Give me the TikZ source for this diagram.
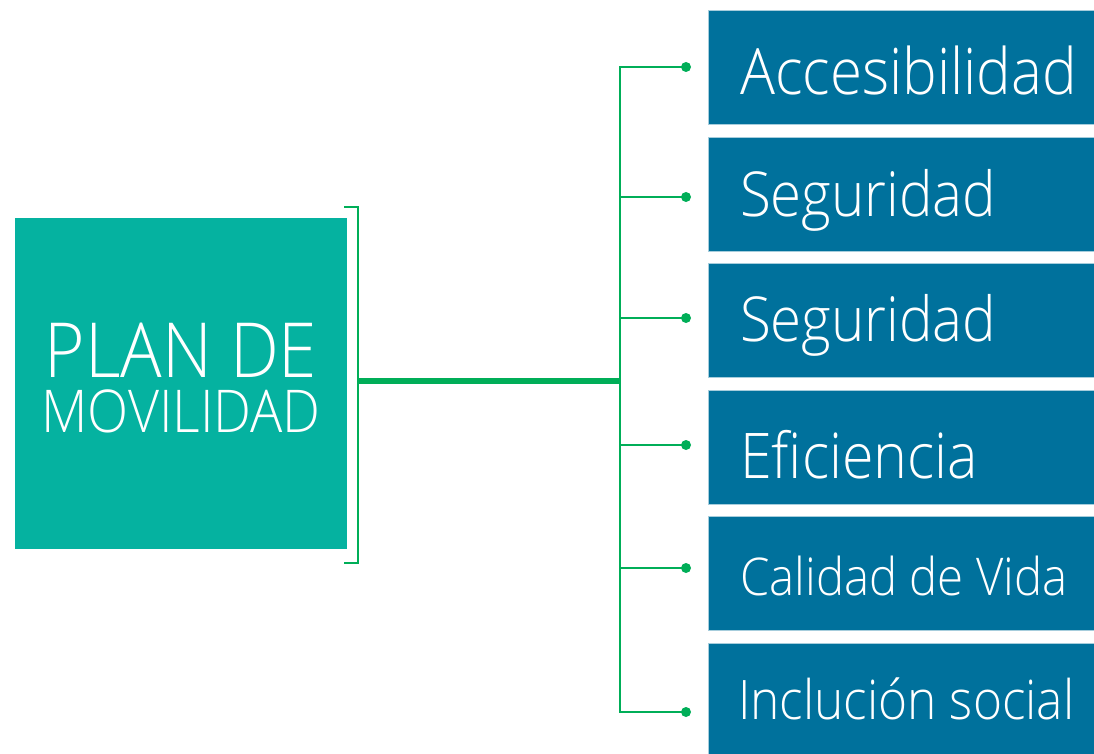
\documentclass[tikz,border=0pt]{standalone}
\usepackage{fontspec}
\setmainfont{Open Sans Light}[FakeStretch=0.91]
\usetikzlibrary{positioning}
\definecolor{tealbox}{RGB}{5,178,160}
\definecolor{bluebox}{RGB}{0,113,156}
\definecolor{linegreen}{RGB}{0,174,88}

\begin{document}
\begin{tikzpicture}[x=1pt, y=-1pt,
    item/.style={rectangle, fill=bluebox, draw=bluebox!35, line width=0.8pt, minimum width=386pt, minimum height=114pt, inner sep=0pt, anchor=north west},
    itemtext/.style={anchor=west, text=white, inner sep=0pt, text depth=0pt},
    link/.style={draw=linegreen, line width=2.6pt},
    tip/.style={circle, fill=linegreen, minimum size=10pt, inner sep=0pt}]

    \useasboundingbox (0,0) rectangle (1094,754);

    % left block
    \node [rectangle, fill=tealbox, minimum width=332pt, minimum height=331pt, anchor=north west] (plan) at (15,218) {};
    \node [anchor=base, text=white, inner sep=0pt, text depth=0pt, font=\fontsize{76}{80}\selectfont] (plan-a) at (181,377) {PLAN DE};
    \node [anchor=base, text=white, inner sep=0pt, text height=42pt, font=\fontsize{59}{62}\selectfont] (plan-b) at (181,432) {MOVILIDAD};

    % right blocks
    \node [item] (acc) at (708,10) {};
    \node [item, below=11.8pt of acc] (seg1) {};
    \node [item, below=11.8pt of seg1] (seg2) {};
    \node [item, below=11.8pt of seg2] (efi) {};
    \node [item, below=11.8pt of efi] (cal) {};
    \node [item, below=11.8pt of cal] (inc) {};

    \node [itemtext, text height=47pt, font=\fontsize{64}{68}\selectfont] (acc-t) at ([xshift=32pt, yshift=-4pt]acc.west) {Accesibilidad};
    \node [itemtext, text height=45pt, font=\fontsize{62}{65}\selectfont] (seg1-t) at ([xshift=32pt]seg1.west) {Seguridad};
    \node [itemtext, text height=45pt, font=\fontsize{62}{65}\selectfont] (seg2-t) at ([xshift=32pt, yshift=2pt]seg2.west) {Seguridad};
    \node [itemtext, text height=45pt, font=\fontsize{63}{66}\selectfont] (efi-t) at ([xshift=32pt, yshift=-9pt]efi.west) {Eficiencia};
    \node [itemtext, text height=38pt, font=\fontsize{52}{55}\selectfont] (cal-t) at ([xshift=32pt, yshift=-3pt]cal.west) {Calidad de Vida};
    \node [itemtext, text height=39pt, font=\fontsize{54.5}{58}\selectfont] (inc-t) at ([xshift=30pt]inc.west) {Inclución social};

    % bracket and trunk
    \coordinate (br-a) at (344,207);
    \coordinate (br-b) at (358,207);
    \coordinate (br-c) at (358,563);
    \coordinate (br-d) at (344,563);
    \coordinate (br-m) at (358,381);
    \draw [link] (br-a) -- (br-b) -- (br-c) -- (br-d);

    \coordinate (sp0) at (620,381);
    \coordinate (sp1) at (620,67);
    \coordinate (sp2) at (620,197);
    \coordinate (sp3) at (620,318);
    \coordinate (sp4) at (620,445);
    \coordinate (sp5) at (620,568);
    \coordinate (sp6) at (620,712);
    \draw [link, line width=6pt] (br-m) -- (sp0);
    \draw [link, line cap=rect] (sp1) -- (sp6);

    \node [tip] (d1) at (686,67) {};
    \node [tip] (d2) at (686,197) {};
    \node [tip] (d3) at (686,318) {};
    \node [tip] (d4) at (686,445) {};
    \node [tip] (d5) at (686,568) {};
    \node [tip] (d6) at (686,712) {};

    \draw [link] (sp1) -- (d1.center);
    \draw [link] (sp2) -- (d2.center);
    \draw [link] (sp3) -- (d3.center);
    \draw [link] (sp4) -- (d4.center);
    \draw [link] (sp5) -- (d5.center);
    \draw [link] (sp6) -- (d6.center);
\end{tikzpicture}
\end{document}
